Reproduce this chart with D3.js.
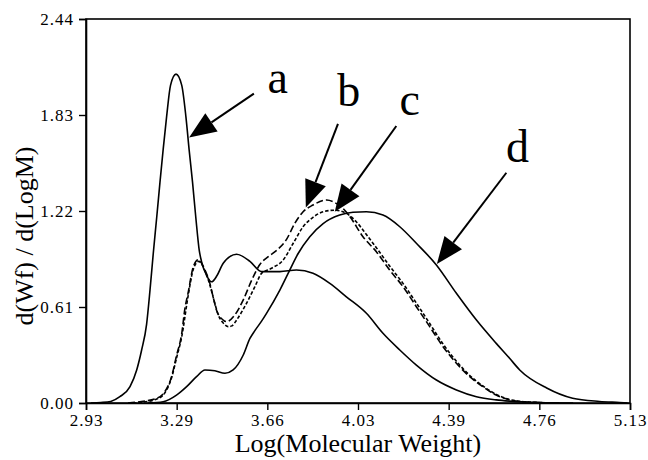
<!DOCTYPE html>
<html>
<head>
<meta charset="utf-8">
<script src="https://cdn.jsdelivr.net/npm/d3@7"></script>
<style>
  html, body { margin: 0; padding: 0; background: #fff; }
</style>
</head>
<body>
<div id="main"></div>
<script>
// data: [log(M), d(Wf)/d(LogM)]
const curveA = [
  [2.95, 0.0], [2.99, 0.003], [3.03, 0.01], [3.067, 0.04], [3.108, 0.104], [3.135, 0.21],
  [3.155, 0.337], [3.175, 0.50], [3.189, 0.72], [3.202, 0.95], [3.216, 1.18], [3.229, 1.40],
  [3.242, 1.61], [3.256, 1.82], [3.272, 2.02], [3.294, 2.09], [3.317, 2.02], [3.334, 1.82],
  [3.347, 1.61], [3.361, 1.40], [3.374, 1.18], [3.388, 0.97], [3.397, 0.90], [3.418, 0.81],
  [3.438, 0.77], [3.46, 0.81], [3.485, 0.888], [3.539, 0.945], [3.593, 0.90], [3.640, 0.835],
  [3.714, 0.835], [3.781, 0.845], [3.848, 0.824], [3.916, 0.76], [3.983, 0.675], [4.064, 0.57],
  [4.131, 0.443], [4.199, 0.337], [4.266, 0.241], [4.347, 0.146], [4.428, 0.083], [4.509, 0.04],
  [4.589, 0.02], [4.643, 0.012], [4.764, 0.003], [4.90, 0.0]
];
const curveB = [
  [3.10, 0.0], [3.148, 0.008], [3.216, 0.03], [3.249, 0.072], [3.276, 0.167], [3.296, 0.30],
  [3.317, 0.44], [3.33, 0.60], [3.343, 0.70], [3.364, 0.866], [3.384, 0.91], [3.411, 0.845],
  [3.431, 0.76], [3.444, 0.675], [3.458, 0.59], [3.485, 0.527], [3.498, 0.517], [3.532, 0.56],
  [3.566, 0.655], [3.600, 0.78], [3.633, 0.88], [3.667, 0.93], [3.701, 0.97], [3.741, 1.04],
  [3.774, 1.14], [3.808, 1.215], [3.848, 1.258], [3.903, 1.29], [3.940, 1.27], [3.970, 1.235],
  [3.997, 1.185], [4.050, 1.057], [4.105, 0.96], [4.158, 0.845], [4.212, 0.739], [4.266, 0.612],
  [4.320, 0.485], [4.374, 0.358], [4.428, 0.252], [4.482, 0.167], [4.535, 0.104], [4.589, 0.05],
  [4.643, 0.02], [4.724, 0.005], [4.85, 0.0]
];
const curveC = [
  [3.12, 0.0], [3.16, 0.006], [3.216, 0.025], [3.249, 0.065], [3.276, 0.16], [3.296, 0.285],
  [3.317, 0.42], [3.343, 0.68], [3.364, 0.85], [3.386, 0.90], [3.411, 0.84], [3.431, 0.75],
  [3.448, 0.65], [3.465, 0.56], [3.49, 0.50], [3.505, 0.485], [3.52, 0.49], [3.539, 0.527],
  [3.579, 0.633], [3.613, 0.739], [3.640, 0.824], [3.680, 0.856], [3.727, 0.908], [3.768, 1.015],
  [3.808, 1.12], [3.848, 1.18], [3.889, 1.215], [3.936, 1.225], [3.983, 1.205], [4.024, 1.15],
  [4.064, 1.07], [4.105, 0.985], [4.158, 0.87], [4.212, 0.76], [4.266, 0.635], [4.320, 0.505],
  [4.374, 0.375], [4.428, 0.265], [4.482, 0.175], [4.535, 0.108], [4.589, 0.055], [4.643, 0.022],
  [4.724, 0.006], [4.85, 0.0]
];
const curveD = [
  [3.18, 0.0], [3.242, 0.008], [3.296, 0.05], [3.337, 0.104], [3.377, 0.167], [3.411, 0.21],
  [3.451, 0.205], [3.492, 0.189], [3.525, 0.21], [3.566, 0.305], [3.593, 0.41], [3.613, 0.46],
  [3.640, 0.52], [3.660, 0.57], [3.714, 0.718], [3.754, 0.845], [3.788, 0.95], [3.835, 1.057],
  [3.889, 1.14], [3.956, 1.194], [4.010, 1.212], [4.064, 1.215], [4.131, 1.194], [4.199, 1.12],
  [4.266, 1.015], [4.347, 0.877], [4.428, 0.697], [4.509, 0.527], [4.589, 0.379], [4.643, 0.284],
  [4.684, 0.21], [4.793, 0.095], [4.898, 0.03], [5.007, 0.01], [5.088, 0.003], [5.12, 0.0]
];

// axis ticks (the labels are the rounded values printed on the chart)
const xTickValues = [2.93, 3.2967, 3.6633, 4.03, 4.3967, 4.7633, 5.13];
const xTickLabels = ['2.93', '3.29', '3.66', '4.03', '4.39', '4.76', '5.13'];
const yTickValues = [0, 0.61, 1.22, 1.83, 2.44];
const yTickLabels = ['0.00', '0.61', '1.22', '1.83', '2.44'];

// curve letters and their arrows, in data units
const labelNames = ['a', 'b', 'c', 'd'];
const labelPos = [[3.705, 1.97], [3.993, 1.887], [4.239, 1.83], [4.675, 1.53]];
const arrowFrom = [[3.609, 1.966], [3.949, 1.773], [4.185, 1.760], [4.630, 1.463]];
const arrowTo = [[3.347, 1.687], [3.819, 1.243], [3.936, 1.215], [4.349, 0.883]];

!(function () {
  'use strict';

  let
    svg = undefined,
    xScale = undefined,
    yScale = undefined;

  const serif = '"Liberation Serif", "Times New Roman", Times, "DejaVu Serif", serif';

  const canvas = {
    context: '#main',
    width: 648,
    height: 460,
    padding: { top: 19, right: 18, bottom: 57, left: 86 }
  };

  const series = [
    { data: curveA, dash: null },
    { data: curveB, dash: '7,3' },
    { data: curveC, dash: '3.5,2' },
    { data: curveD, dash: null }
  ];

  function setCanvas() {
    svg = d3.select(canvas.context)
      .append('svg')
      .attr('width', canvas.width)
      .attr('height', canvas.height)
      .attr('viewBox', '0 0 ' + canvas.width + ' ' + canvas.height)
      .style('font-family', serif);
  }

  function setScales() {
    xScale = d3.scaleLinear()
      .domain([2.93, 5.13])
      .range([canvas.padding.left, canvas.width - canvas.padding.right]);
    yScale = d3.scaleLinear()
      .domain([0, 2.44])
      .range([canvas.height - canvas.padding.bottom, canvas.padding.top]);
  }

  function setFrame() {
    svg.append('rect')
      .attr('x', xScale(2.93))
      .attr('y', yScale(2.44))
      .attr('width', xScale(5.13) - xScale(2.93))
      .attr('height', yScale(0) - yScale(2.44))
      .attr('fill', 'none')
      .attr('stroke', '#000')
      .attr('stroke-width', 1.6);
  }

  function addText(x, y, size, str) {
    return svg.append('text')
      .attr('x', x)
      .attr('y', y)
      .attr('text-anchor', 'middle')
      .style('font-family', serif)
      .style('font-size', size + 'px')
      .attr('fill', '#000')
      .text(str);
  }

  function setAxes() {
    const gx = svg.append('g')
      .attr('transform', 'translate(0,' + yScale(0) + ')')
      .call(d3.axisBottom(xScale)
        .tickValues(xTickValues)
        .tickFormat((d, i) => xTickLabels[i])
        .tickSize(7)
        .tickPadding(4));

    const gy = svg.append('g')
      .attr('transform', 'translate(' + xScale(2.93) + ',0)')
      .call(d3.axisLeft(yScale)
        .tickValues(yTickValues)
        .tickFormat((d, i) => yTickLabels[i])
        .tickSize(7)
        .tickPadding(5));

    [gx, gy].forEach(g => {
      g.attr('font-family', null).attr('font-size', null);
      g.select('.domain').attr('stroke-width', 1.6);
      g.selectAll('.tick line').attr('stroke-width', 1.4);
      g.selectAll('.tick text')
        .style('font-family', serif)
        .style('font-size', '17px')
        .style('letter-spacing', '1px')
        .attr('fill', '#000');
    });

    addText((xScale(2.93) + xScale(5.13)) / 2, 452, 26, 'Log(Molecular Weight)');

    addText(0, 0, 26, 'd(Wf) / d(LogM)')
      .attr('transform', 'translate(33,236) rotate(-90)');
  }

  function setCurves() {
    const line = d3.line()
      .x(d => xScale(d[0]))
      .y(d => yScale(d[1]))
      .curve(d3.curveMonotoneX);

    svg.append('g')
      .selectAll('path')
      .data(series)
      .join('path')
      .attr('d', s => line(s.data))
      .attr('fill', 'none')
      .attr('stroke', '#000')
      .attr('stroke-width', 1.6)
      .attr('stroke-dasharray', s => s.dash);
  }

  function setLabels() {
    const headLen = 27,
      headHalf = 11;

    labelNames.forEach((name, i) => {
      const x0 = xScale(arrowFrom[i][0]), y0 = yScale(arrowFrom[i][1]);
      const x1 = xScale(arrowTo[i][0]), y1 = yScale(arrowTo[i][1]);
      const len = Math.hypot(x1 - x0, y1 - y0);
      const ux = (x1 - x0) / len, uy = (y1 - y0) / len;
      const bx = x1 - ux * headLen, by = y1 - uy * headLen;

      svg.append('line')
        .attr('x1', x0).attr('y1', y0)
        .attr('x2', bx).attr('y2', by)
        .attr('stroke', '#000')
        .attr('stroke-width', 2);

      svg.append('path')
        .attr('d', 'M' + x1 + ',' + y1 +
          'L' + (bx - uy * headHalf) + ',' + (by + ux * headHalf) +
          'L' + (bx + uy * headHalf) + ',' + (by - ux * headHalf) + 'Z')
        .attr('fill', '#000');

      addText(xScale(labelPos[i][0]), yScale(labelPos[i][1]), 46, name);
    });
  }

  setCanvas();
  setScales();
  setFrame();
  setCurves();
  setAxes();
  setLabels();
}());
</script>
</body>
</html>
